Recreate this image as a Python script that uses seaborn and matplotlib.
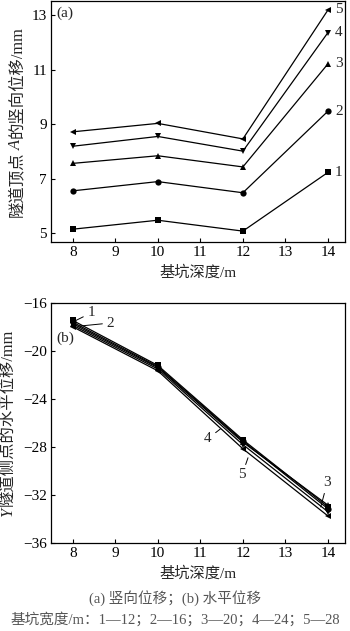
import matplotlib
matplotlib.use("Agg")
import matplotlib.pyplot as plt
import seaborn as sns
import pandas as pd

depth = [8, 10, 12, 14]
series_names = ["1", "2", "3", "4", "5"]
markers = ["s", "o", "^", "v", "<"]

vert = {
    "1": [5.14, 5.47, 5.07, 7.23],
    "2": [6.55, 6.89, 6.48, 9.48],
    "3": [7.56, 7.84, 7.43, 11.22],
    "4": [8.19, 8.55, 8.01, 12.37],
    "5": [8.72, 9.03, 8.46, 13.20],
}
horiz = {
    "1": [-17.45, -21.20, -27.40, -33.00],
    "2": [-17.60, -21.30, -27.50, -33.15],
    "3": [-17.72, -21.38, -27.60, -32.85],
    "4": [-17.85, -21.50, -27.80, -33.40],
    "5": [-17.98, -21.65, -28.15, -33.75],
}

xticks = [8, 9, 10, 11, 12, 13, 14]
yticks_a = [5, 7, 9, 11, 13]
yticks_b = [-36, -32, -28, -24, -20, -16]

ylabel_a = [("隧道顶点", False), ("A", True), ("的竖向位移/mm", False)]
ylabel_b = [("Y", True), ("隧道侧点的水平位移/mm", False)]

sns.set_theme(style="ticks")
FAM = ["Liberation Serif", "Noto Sans CJK SC"]
plt.rcParams["font.family"] = FAM
plt.rcParams["axes.unicode_minus"] = True


def long_df(d):
    rows = []
    for s in series_names:
        for x, y in zip(depth, d[s]):
            rows.append({"depth": x, "val": y, "s": s})
    return pd.DataFrame(rows)


fig = plt.figure(figsize=(3.5, 6.31), dpi=100)
ax1 = fig.add_axes([0.1457, 0.6165, 0.8400, 0.3815])
ax2 = fig.add_axes([0.1457, 0.1395, 0.8400, 0.3803])

pal = {s: "black" for s in series_names}
mk = dict(zip(series_names, markers))

for ax, d in ((ax1, vert), (ax2, horiz)):
    sns.lineplot(data=long_df(d), x="depth", y="val", hue="s", style="s",
                 palette=pal, markers=mk, dashes=False, ax=ax,
                 linewidth=0.9, markersize=4.5, markeredgewidth=0,
                 legend=False)
    ax.set_xlim(7.49, 14.4)
    ax.set_xticks(xticks)
    ax.tick_params(direction="in", length=3, width=0.8, labelsize=11,
                   colors="black", pad=3)
    for sp in ax.spines.values():
        sp.set_linewidth(0.9)
        sp.set_color("black")
    ax.set_xlabel("基坑深度/m", fontsize=11, labelpad=4)
    ax.set_ylabel("")

ax1.set_ylim(4.67, 13.52)
ax1.set_yticks(yticks_a)
ax1.text(7.62, 13.07, "(a)", fontsize=11, va="center", ha="left")
for s in series_names:
    ax1.annotate(s, (14, vert[s][-1]), xytext=(5, 0), textcoords="offset points",
                 fontsize=11, va="center", ha="left")

ax2.set_ylim(-36, -16)
ax2.set_yticks(yticks_b)
ax2.text(7.61, -18.92, "(b)", fontsize=11, va="center", ha="left")

ann = [("1", (8.05, -17.5), (8.43, -16.83)),
       ("2", (8.17, -17.92), (8.88, -17.67)),
       ("4", (11.47, -26.5), (11.18, -27.3)),
       ("5", (12.12, -28.9), (11.98, -30.33)),
       ("3", (13.83, -33.0), (13.98, -31.0))]
for lab, xy, xyt in ann:
    ax2.annotate(lab, xy=xy, xytext=xyt, fontsize=11, ha="center", va="center",
                 arrowprops=dict(arrowstyle="-", lw=0.7, color="black",
                                 shrinkA=0.5, shrinkB=0))


def rich_ylabel(ax, parts, xpix, fontsize=11.8):
    renderer = fig.canvas.get_renderer()
    arts = []
    for txt, ital in parts:
        t = fig.text(0, 0, txt, rotation=90, ha="center", va="bottom",
                     fontsize=fontsize,
                     family=FAM if not ital else ["Liberation Serif"],
                     style="italic" if ital else "normal")
        arts.append(t)
    heights = [a.get_window_extent(renderer).height for a in arts]
    total = sum(heights) + 1.5 * (len(arts) - 1)
    bb = ax.get_window_extent(renderer)
    y = bb.y0 + bb.height / 2 - total / 2
    inv = fig.transFigure.inverted()
    for a, h in zip(arts, heights):
        fx, fy = inv.transform((xpix, y))
        a.set_position((fx, fy))
        y += h + 1.5


rich_ylabel(ax1, ylabel_a, 17)
rich_ylabel(ax2, ylabel_b, 8)

fig.text(0.5, 0.052, "(a) 竖向位移；(b) 水平位移", fontsize=10.5,
         ha="center", va="center", color="#555555")
fig.text(0.5, 0.018, "基坑宽度/m：1—12；2—16；3—20；4—24；5—28", fontsize=10.5,
         ha="center", va="center", color="#555555")

fig.savefig("out.png", dpi=100)
